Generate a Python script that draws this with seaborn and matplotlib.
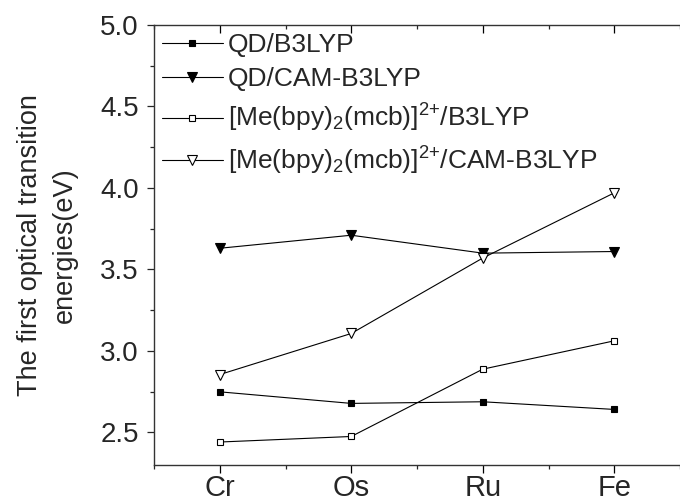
import matplotlib
matplotlib.use("Agg")
import matplotlib.pyplot as plt
from matplotlib.ticker import MultipleLocator, FormatStrFormatter
import seaborn as sns
import pandas as pd

metals = ["Cr", "Os", "Ru", "Fe"]
qd_b3lyp = [2.749, 2.678, 2.688, 2.641]
qd_cam = [3.630, 3.710, 3.600, 3.610]
me_b3lyp = [2.441, 2.475, 2.888, 3.062]
me_cam = [2.855, 3.107, 3.570, 3.970]

series_names = [
    "QD/B3LYP",
    "QD/CAM-B3LYP",
    r"[Me(bpy)$_2$(mcb)]$^{2{+}}$/B3LYP",
    r"[Me(bpy)$_2$(mcb)]$^{2{+}}$/CAM-B3LYP",
]

sns.set_theme(style="ticks")
plt.rcParams["font.family"] = ["Liberation Sans", "DejaVu Sans"]
plt.rcParams["mathtext.fontset"] = "custom"
plt.rcParams["mathtext.rm"] = "Liberation Sans"
plt.rcParams["mathtext.it"] = "Liberation Sans"
plt.rcParams["mathtext.default"] = "regular"

fig = plt.figure(figsize=(6.8, 5.03), dpi=100)
ax = fig.add_axes([154 / 680, 1 - 465 / 503, 1 - 154 / 680, (465 - 25) / 503])

styles = [
    dict(marker="s", mfc="black", ms=5),
    dict(marker="v", mfc="black", ms=6.5),
    dict(marker="s", mfc="white", ms=5),
    dict(marker="v", mfc="white", ms=6.5),
]
values = [qd_b3lyp, qd_cam, me_b3lyp, me_cam]
x_pos = list(range(len(metals)))

for name, vals, st in zip(series_names, values, styles):
    df = pd.DataFrame({"x": x_pos, "y": vals})
    sns.lineplot(data=df, x="x", y="y", ax=ax, color="black", lw=0.8,
                 marker=st["marker"], markerfacecolor=st["mfc"],
                 markeredgecolor="black", markeredgewidth=0.8,
                 markersize=st["ms"], label=name, sort=False)

ax.set_xlim(-0.5, 3.5)
ax.set_ylim(2.3, 5.0)
ax.set_xticks(x_pos)
ax.set_xticklabels(metals)
ax.xaxis.set_minor_locator(MultipleLocator(0.5))
ax.yaxis.set_major_locator(MultipleLocator(0.5))
ax.yaxis.set_minor_locator(MultipleLocator(0.25))
ax.yaxis.set_major_formatter(FormatStrFormatter("%.1f"))

ax.set_xlabel("")
ax.set_ylabel("The first optical transition\nenergies(eV)", fontsize=19.5,
              labelpad=16, linespacing=1.45)

ax.tick_params(axis="x", which="major", labelsize=21, length=6, width=0.9,
               direction="out", top=True, pad=0.5, color="black")
ax.tick_params(axis="x", which="minor", length=3, width=0.9, direction="out", top=True)
ax.tick_params(axis="y", which="major", labelsize=20, length=5, width=0.9,
               direction="out", pad=6)
ax.tick_params(axis="y", which="minor", length=3, width=0.9, direction="out")
for t in ax.xaxis.get_ticklines(minor=False)[1::2] + ax.xaxis.get_ticklines(minor=True)[1::2]:
    t.set_marker(3)  # top ticks point inward

ax.spines["right"].set_visible(False)
for s in ["left", "top", "bottom"]:
    ax.spines[s].set_linewidth(1.0)
    ax.spines[s].set_color("#333333")

ax.legend(loc="upper left", frameon=False, fontsize=19, handlelength=2.3,
          handletextpad=0.2, borderaxespad=0.0, borderpad=0.3,
          labelspacing=0.4, bbox_to_anchor=(0.0, 1.0))

fig.savefig("out.png", dpi=100)
